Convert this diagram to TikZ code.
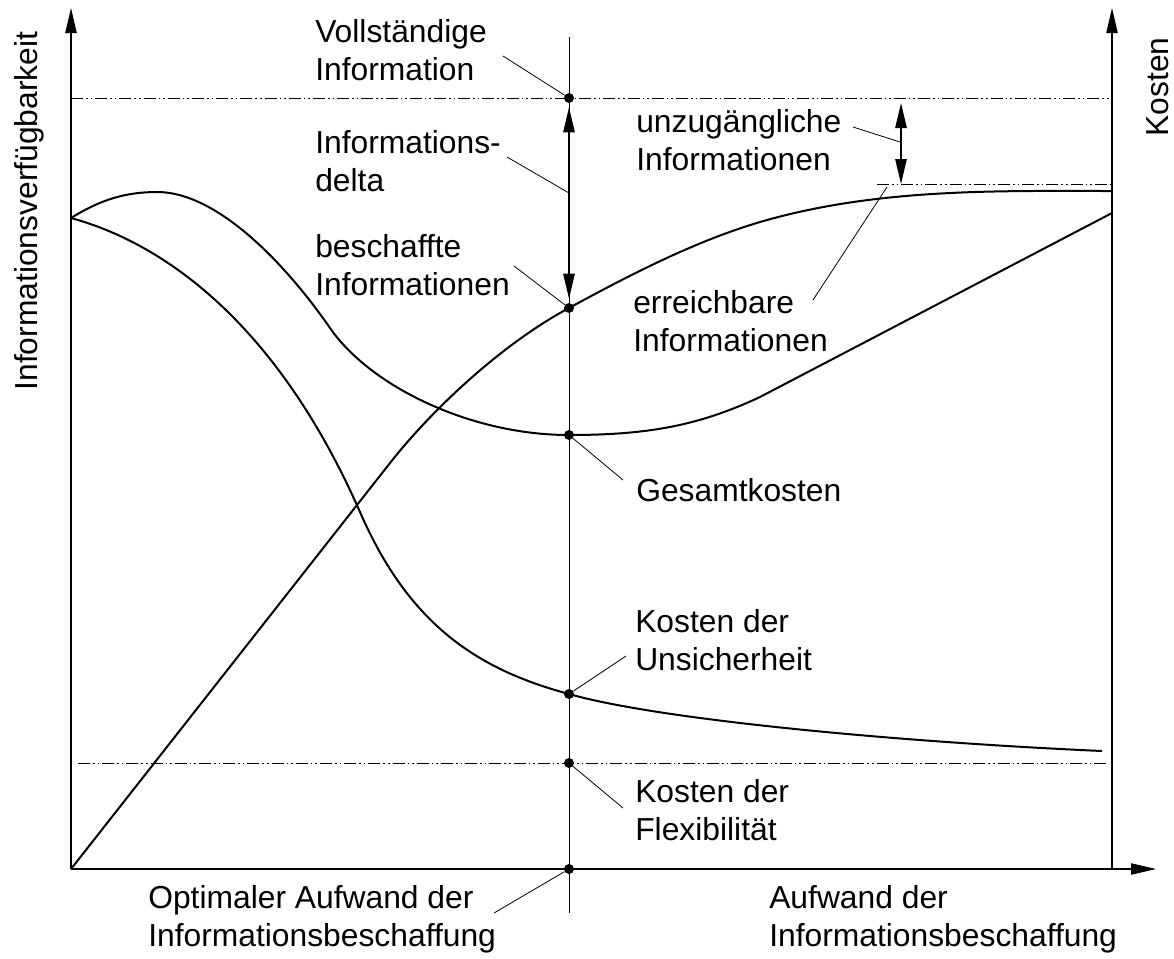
\documentclass[tikz,border=0pt]{standalone}
\usepackage{fontspec}
\setmainfont{Liberation Sans}
\usetikzlibrary{arrows.meta}
\begin{document}
\begin{tikzpicture}[x=0.75pt,y=-0.75pt,
  lbl/.style={anchor=base west, inner sep=0pt, align=left,
    font=\fontsize{23.85pt}{28.5pt}\selectfont},
  axislbl/.style={anchor=base, inner sep=0pt, rotate=90,
    font=\fontsize{23.85pt}{28.5pt}\selectfont},
  axis/.style={line width=0.8pt},
  curve/.style={line width=1.5pt, line join=round},
  guide/.style={line width=0.6pt},
  leader/.style={line width=0.6pt},
  dashdotdot/.style={line width=0.7pt,
    dash pattern=on 9pt off 2.25pt on 1.2pt off 2.25pt on 1.2pt off 2.25pt},
  dot/.style={circle, fill=black, inner sep=0pt, minimum size=7.5pt},
  >={Triangle[length=18.75pt,width=8.5pt]}
]
\useasboundingbox (0,0) rectangle (1174,958);

% axes
\coordinate (O) at (71,869);
\coordinate (yTop) at (71,8);
\coordinate (xEnd) at (1156,869);
\coordinate (rBot) at (1112,869);
\coordinate (rTop) at (1112,8);
\draw[axis,->] (O) -- (yTop);
\draw[axis,->] (O) -- (xEnd);
\draw[axis,->] (rBot) -- (rTop);

% reference levels
\coordinate (fullL) at (71,98);   \coordinate (fullR) at (1112,98);
\coordinate (reachL) at (877,184); \coordinate (reachR) at (1112,184);
\coordinate (flexL) at (78,763);  \coordinate (flexR) at (1109,763);
\draw[dashdotdot] (fullL) -- (fullR);
\draw[dashdotdot] (reachL) -- (reachR);
\draw[dashdotdot] (flexL) -- (flexR);

% optimum line
\coordinate (midTop) at (569,37);
\coordinate (midBot) at (569,913);
\draw[guide] (midTop) -- (midBot);

% available information
\draw[curve] (O) -- (390,463)
  .. controls (430,412) and (500,345) .. (569,308)
  .. controls (635,272) and (701,238.5) .. (767,220)
  .. controls (882,188) and (1000,191) .. (1112,191);

% total cost
\draw[curve] (71,218)
  .. controls (100,200) and (125,192) .. (157,192)
  .. controls (220,192) and (290,270) .. (330,328)
  .. controls (370,386) and (470,435) .. (569,435)
  .. controls (650,435) and (700,425) .. (760,397)
  -- (1112,213);

% cost of uncertainty
\draw[curve] (71,218)
  .. controls (170,245) and (280,330) .. (360,512)
  .. controls (410,627) and (480,670) .. (569,694)
  .. controls (660,720) and (900,742) .. (1102,751);

% marked points
\node[dot] (dFull) at (569,98) {};
\node[dot] (dAcq)  at (569,308) {};
\node[dot] (dTot)  at (569,435) {};
\node[dot] (dUnc)  at (569,694) {};
\node[dot] (dFlex) at (569,763) {};
\node[dot] (dOpt)  at (569,869) {};

% dimension arrows
\draw[line width=1.2pt,<->, shorten <=3pt, shorten >=3pt] (dFull) -- (dAcq);
\coordinate (gapTop) at (901,103);
\coordinate (gapBot) at (901,184);
\draw[line width=1.2pt,<->] (gapTop) -- (gapBot);

% labels (anchored at the baseline of their last line)
\node[lbl] (tFull) at (315,80) {Vollständige\\Information};
\node[lbl] (tDelta) at (315,191) {Informations-\\delta};
\node[lbl] (tAcq) at (315,295) {beschaffte\\Informationen};
\node[lbl] (tInacc) at (636,170) {unzugängliche\\Informationen};
\node[lbl] (tReach) at (633,351) {erreichbare\\Informationen};
\node[lbl] (tTot) at (636,501) {Gesamtkosten};
\node[lbl] (tUnc) at (635,670) {Kosten der\\Unsicherheit};
\node[lbl] (tFlex) at (635,840) {Kosten der\\Flexibilität};
\node[lbl] (tOpt) at (148,946) {Optimaler Aufwand der\\Informationsbeschaffung};
\node[lbl] (tEff) at (769,946) {Aufwand der\\Informationsbeschaffung};
\node[axislbl] (tAvail) at (37,211) {Informationsverfügbarkeit};
\node[axislbl] (tCost) at (1168,87) {Kosten};

% leader lines
\coordinate (lFull) at (503,56);
\coordinate (lDelta) at (507,157);  \coordinate (lDeltaE) at (569,193);
\coordinate (lAcq) at (514,266);
\coordinate (lInacc) at (853,127);  \coordinate (lInaccE) at (900,142);
\coordinate (lReach) at (813,300);  \coordinate (lReachE) at (887,187);
\coordinate (lTot) at (623,480);
\coordinate (lUnc) at (626,656);
\coordinate (lFlex) at (623,808);
\coordinate (lOpt) at (494,913);
\draw[leader] (lFull) -- (dFull);
\draw[leader] (lDelta) -- (lDeltaE);
\draw[leader] (lAcq) -- (dAcq);
\draw[leader] (lInacc) -- (lInaccE);
\draw[leader] (lReach) -- (lReachE);
\draw[leader] (lTot) -- (dTot);
\draw[leader] (lUnc) -- (dUnc);
\draw[leader] (lFlex) -- (dFlex);
\draw[leader] (lOpt) -- (dOpt);
\end{tikzpicture}
\end{document}
